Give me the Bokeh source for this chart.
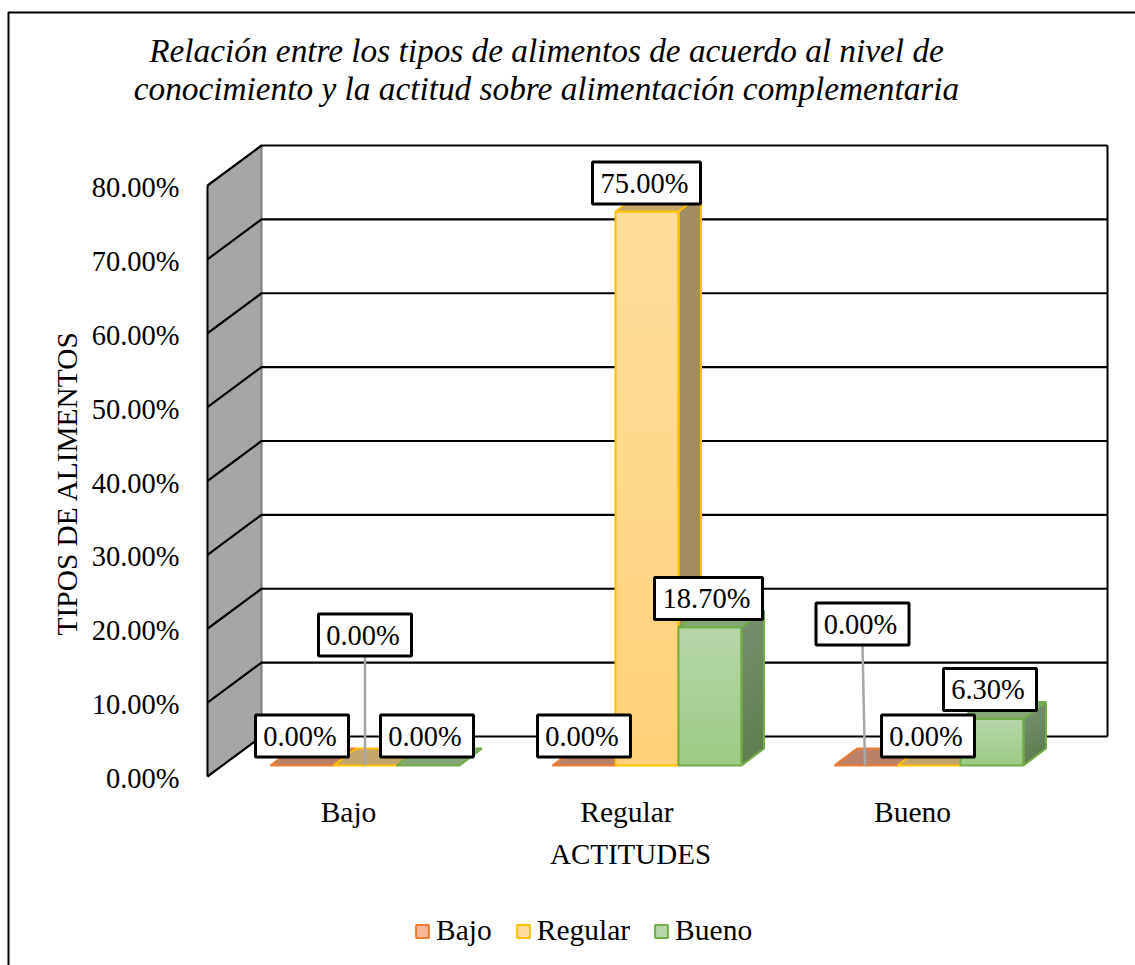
from bokeh.plotting import figure
from bokeh.models import Range1d, LinearAxis, FixedTicker, Legend, LegendItem, ColumnDataSource
from bokeh.core.properties import value
from bokeh.embed import file_html
from bokeh.resources import INLINE

# ---- data ----
categories = ["Bajo", "Regular", "Bueno"]
series_names = ["Bajo", "Regular", "Bueno"]
bajo = [0.0, 0.0, 0.0]
regular = [0.0, 75.0, 0.0]
bueno = [0.0, 18.7, 6.3]
y_ticks = [0, 10, 20, 30, 40, 50, 60, 70, 80]
title_lines = ["Relación entre los tipos de alimentos de acuerdo al nivel de",
               "conocimiento y la actitud sobre alimentación complementaria"]
y_title = "TIPOS DE ALIMENTOS"
x_title = "ACTITUDES"

# ---- geometry: scale of the 3D projection ----
FONT = "Liberation Serif"
FS = "28.5px"
FS_CAT = "29.5px"
PX_X = 282.0      # pixels per category
PX_Y = 7.3875     # pixels per percentage point
W, H = 1135, 965
def X(px): return (px - 207) / PX_X - 0.5
def Y(py): return (776 - py) / PX_Y
WALL_DX, WALL_DY = 54 / PX_X, 40 / PX_Y
FRONT_DX, FRONT_DY = 16.5 / PX_X, 11 / PX_Y
BAR_DX, BAR_DY = 22.5 / PX_X, 17 / PX_Y
BAR_W = 63 / PX_X
N_GRAD = 18
TICK_SHIFT = 2 / PX_Y          # tick labels sit a little under their gridline
REGULAR_TICK = 1 - 3.5 / PX_X  # the "Regular" label sits a little left of its group

p = figure(width=W, height=H, output_backend="svg", toolbar_location=None,
           x_range=Range1d(X(0), X(W)), y_range=Range1d(Y(H), Y(0)),
           x_axis_location=None, y_axis_location=None, min_border=0,
           outline_line_color=None, background_fill_color="white", border_fill_color="white")
p.extra_y_ranges = {"ticks": Range1d(Y(H) + TICK_SHIFT, Y(0) + TICK_SHIFT)}
p.grid.visible = False

# outer frame
p.line([X(8), X(8), X(W)], [Y(H), Y(12), Y(12)], line_color="black", line_width=2)

# walls
L = -0.5
R = 2.5
p.patch([L, L + WALL_DX, L + WALL_DX, L], [0, WALL_DY, 80 + WALL_DY, 80],
        fill_color="#a6a6a6", line_color=None)
p.line([L + WALL_DX, L + WALL_DX], [WALL_DY, 80 + WALL_DY], line_color="#7f7f7f", line_width=2)
p.line([L, L], [0, 80], line_color="black", line_width=2)
for t in y_ticks:
    p.line([L, L + WALL_DX, R + WALL_DX], [t, t + WALL_DY, t + WALL_DY], line_color="black", line_width=2.2)
p.line([R + WALL_DX, R + WALL_DX], [WALL_DY, 80 + WALL_DY], line_color="black", line_width=2)

# colours per series
borders = ["#ED7D31", "#FFC000", "#70AD47"]
front_top = ["#F7B79A", "#FEDD9C", "#B8D7AB"]
front_bot = ["#F4A77F", "#FFD27A", "#9CCB85"]
side_top = ["#A8735C", "#A38D62", "#768F6F"]
side_bot = ["#A8735C", "#A38D62", "#5F7F50"]
top_col = ["#BA8068", "#C4A56B", "#86A878"]

def mix(a, b, t):
    ca = [int(a[i:i + 2], 16) for i in (1, 3, 5)]
    cb = [int(b[i:i + 2], 16) for i in (1, 3, 5)]
    return "#%02x%02x%02x" % tuple(round(x + (y - x) * t) for x, y in zip(ca, cb))

all_series = [bajo, regular, bueno]
for c in range(len(categories)):
    for s, vals in enumerate(all_series):
        v = vals[c]
        cx = c + (s - 1) * BAR_W + FRONT_DX
        x0, x1 = cx - BAR_W / 2, cx + BAR_W / 2
        y0 = FRONT_DY
        yt = y0 + v
        bc = borders[s]
        if v > 0:
            for i in range(N_GRAD):
                f = i / N_GRAD
                yb = y0 + v * f
                col = mix(front_bot[s], front_top[s], f)
                p.quad(left=[x0], right=[x1], bottom=[yb], top=[yt], fill_color=col, line_color=None)
                cs = mix(side_bot[s], side_top[s], f)
                p.patch([x1, x1 + BAR_DX, x1 + BAR_DX, x1], [yb, yb + BAR_DY, yt + BAR_DY, yt],
                        fill_color=cs, line_color=None)
            p.patch([x1, x1 + BAR_DX, x1 + BAR_DX, x1], [y0, y0 + BAR_DY, yt + BAR_DY, yt],
                    fill_color=None, line_color=bc, line_width=2)
            p.quad(left=[x0], right=[x1], bottom=[y0], top=[yt], fill_color=None, line_color=bc, line_width=2)
        p.patch([x0, x1, x1 + BAR_DX, x0 + BAR_DX], [yt, yt, yt + BAR_DY, yt + BAR_DY],
                fill_color=top_col[s], line_color=bc, line_width=2)

# axes
yax = LinearAxis(ticker=FixedTicker(ticks=y_ticks), fixed_location=L, y_range_name="ticks")
yax.major_label_overrides = {t: f"{t:.2f}%" for t in y_ticks}
yax.axis_line_color = None
yax.major_tick_line_color = None
yax.minor_tick_line_color = None
yax.major_label_standoff = 22
yax.major_label_text_font = FONT
yax.major_label_text_font_size = FS
yax.major_label_text_color = "black"
yax.axis_label = y_title
yax.axis_label_text_font = FONT
yax.axis_label_text_font_size = "29.4px"
yax.axis_label_text_font_style = "normal"
yax.axis_label_text_color = "black"
yax.axis_label_standoff = 6
p.add_layout(yax, "left")

x_tick_pos = [0, REGULAR_TICK, 2]
xax = LinearAxis(ticker=FixedTicker(ticks=x_tick_pos), fixed_location=0)
xax.major_label_overrides = {t: c for t, c in zip(x_tick_pos, categories)}
xax.axis_line_color = None
xax.major_tick_line_color = None
xax.minor_tick_line_color = None
xax.major_label_standoff = 13
xax.major_label_text_font = FONT
xax.major_label_text_font_size = FS_CAT
xax.major_label_text_color = "black"
p.add_layout(xax, "below")

# leaders and data labels (centre of each box on the page)
LEADER = "#a6a6a6"
p.line([X(364.5), X(364.5)], [Y(656), Y(765)], line_color=LEADER, line_width=2.5)
p.line([X(862), X(864.5)], [Y(645), Y(765)], line_color=LEADER, line_width=2.5)

label_centres = {
    (0, 0): (301.5, 735.5), (0, 1): (364.5, 634.5), (0, 2): (426.5, 735.5),
    (1, 0): (583.5, 735.5), (1, 1): (646, 182.5), (1, 2): (708, 598),
    (2, 0): (862, 623.5), (2, 1): (927.5, 735.5), (2, 2): (989.5, 689),
}
lx, ly, lt, lw = [], [], [], []
for (c, s), (px, py) in label_centres.items():
    txt = f"{all_series[s][c]:.2f}%"
    lx.append(X(px)); ly.append(Y(py)); lt.append(txt)
    lw.append(108 if len(txt) > 5 else 93)
src = ColumnDataSource(dict(x=lx, y=ly, t=lt, w=lw))
p.rect("x", "y", width="w", height=42, width_units="screen", height_units="screen", source=src,
       fill_color="white", line_color="black", line_width=3)
p.text("x", "y", text="t", source=src, text_align="center", text_baseline="middle", x_offset=-2,
       text_font=value(FONT), text_font_size=value(FS), text_color="black")

# titles as text
p.text([X(546), X(546)], [Y(50), Y(88)], text=title_lines, text_align="center", text_baseline="middle",
       text_font=value(FONT), text_font_style="italic", text_font_size=value("33.3px"), text_color="black")
p.text([X(630)], [Y(853)], text=[x_title], text_align="center", text_baseline="middle",
       text_font=value(FONT), text_font_size=value("29px"), text_color="black")

# legend
items = []
for s, name in enumerate(series_names):
    r = p.quad(left=[0], right=[0], bottom=[-100], top=[-100], fill_color=front_top[s],
               line_color=borders[s], line_width=2)
    items.append(LegendItem(label=name, renderers=[r]))
leg = Legend(items=items, orientation="horizontal", location=(414, 18), border_line_color=None,
             background_fill_alpha=0, glyph_width=16, glyph_height=16, label_standoff=6, spacing=23,
             padding=0, margin=0, label_text_font=FONT, label_text_font_size=FS_CAT, label_text_color="black")
p.add_layout(leg)

open("out.html", "w").write(file_html(p, INLINE))
